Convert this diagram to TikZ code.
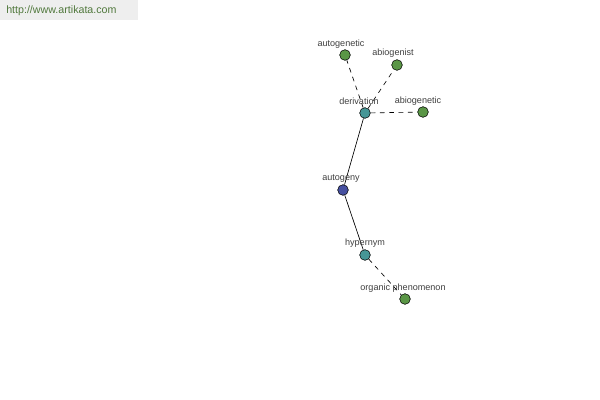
\documentclass[tikz,border=0pt]{standalone}
\usepackage{fontspec}
\setmainfont{Liberation Sans}
\usepackage{tikz}

\definecolor{leafgreen}{RGB}{90,150,70}
\definecolor{midteal}{RGB}{70,150,150}
\definecolor{rootblue}{RGB}{70,80,160}
\definecolor{bannergray}{RGB}{238,238,238}
\definecolor{bannertext}{RGB}{80,120,60}

\tikzset{
    word/.style={circle, draw=black, line width=0.4pt, inner sep=0pt, minimum size=8pt},
    wordlabel/.style={font=\fontsize{6.8}{8}\selectfont, text=black!75, inner sep=0pt},
    rel/.style={line width=0.5pt},
    relderiv/.style={line width=0.5pt, dash pattern=on 3.5pt off 3.5pt}
}

\begin{document}
\begin{tikzpicture}[x=0.75pt, y=-0.75pt]
        \useasboundingbox (0, 0) rectangle (600, 400);
        \fill[white] (0, 0) rectangle (600, 400);
        \fill[bannergray] (0, 0) rectangle (138, 20);
        \node[anchor=west, font=\fontsize{8}{9}\selectfont, text=bannertext, inner sep=0pt] (site) at (6, 11) {http://www.artikata.com};

        \node[word, fill=leafgreen] (autogenetic) at (345, 55) {};
        \node[word, fill=leafgreen] (abiogenist) at (397, 65) {};
        \node[word, fill=midteal] (derivation) at (365, 113) {};
        \node[word, fill=leafgreen] (abiogenetic) at (423, 112) {};
        \node[word, fill=rootblue] (autogeny) at (343, 190) {};
        \node[word, fill=midteal] (hypernym) at (365, 255) {};
        \node[word, fill=leafgreen] (organic) at (405, 299) {};

        \draw[relderiv] (derivation) -- (autogenetic);
        \draw[relderiv] (derivation) -- (abiogenist);
        \draw[relderiv] (derivation) -- (abiogenetic);
        \draw[rel] (derivation) -- (autogeny);
        \draw[rel] (autogeny) -- (hypernym);
        \draw[relderiv] (hypernym) -- (organic);

        \node[wordlabel] (autogeneticlbl) at (341, 44) {autogenetic};
        \node[wordlabel] (abiogenistlbl) at (393, 53) {abiogenist};
        \node[wordlabel] (derivationlbl) at (359, 101) {derivation};
        \node[wordlabel] (abiogeneticlbl) at (418, 101) {abiogenetic};
        \node[wordlabel] (autogenylbl) at (341, 179) {autogeny};
        \node[wordlabel] (hypernymlbl) at (365, 243) {hypernym};
        \node[wordlabel] (organiclbl) at (403, 288) {organic phenomenon};
    \end{tikzpicture}
\end{document}
